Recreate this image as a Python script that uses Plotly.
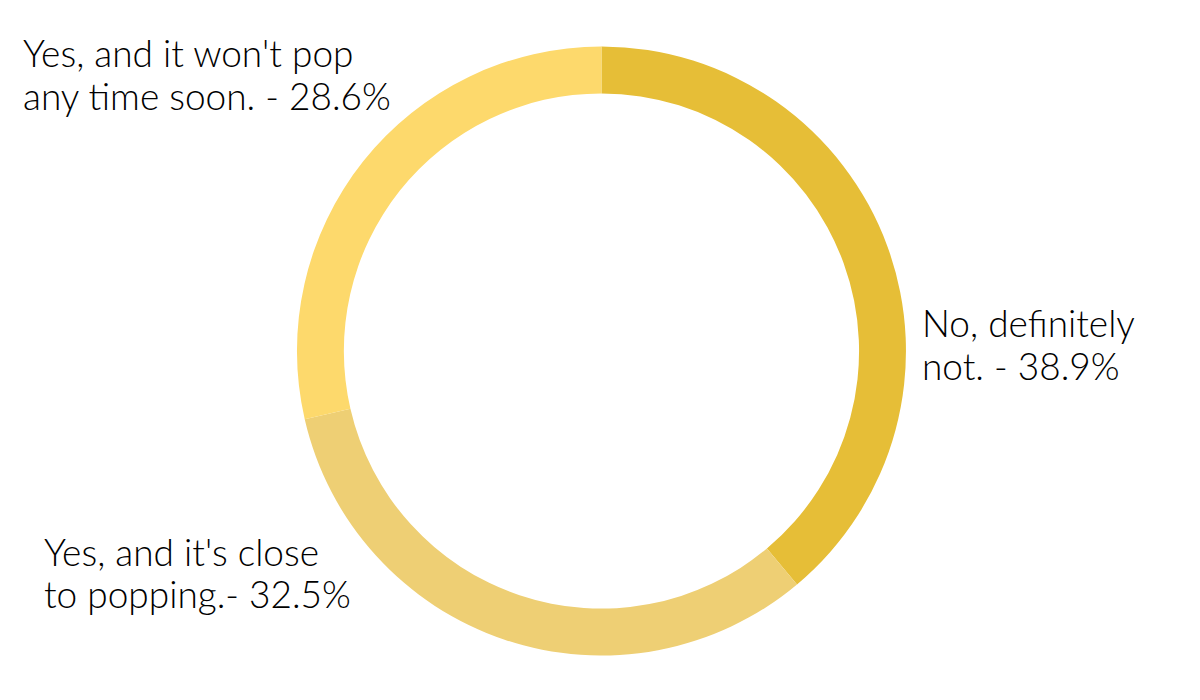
import plotly.graph_objects as go

labels = ["No, definitely not.", "Yes, and it's close to popping.", "Yes, and it won't pop any time soon."]
values = [38.9, 32.5, 28.6]
colors = ["#E6BE37", "#EECF74", "#FDD96C"]
label_lines = [
    ["No, definitely", "not. - 38.9%"],
    ["Yes, and it's close", "to popping.- 32.5%"],
    ["Yes, and it won't pop", "any time soon. - 28.6%"],
]

fig = go.Figure(go.Pie(
    labels=labels, values=values, sort=False, direction="clockwise", rotation=0,
    hole=0.846, marker=dict(colors=colors, line=dict(width=0)),
    textinfo="none", hoverinfo="label+percent", showlegend=False,
    domain=dict(x=[0.2408, 0.7483], y=[0.0743, 0.9457]),
))

font = dict(family="Lato", size=37, color="#000000", weight=300)
pos = [(912, 315), (34, 543), (13, 45)]
for (x, y), lines in zip(pos, label_lines):
    for i, t in enumerate(lines):
        fig.add_annotation(x=x / 1200, y=1 - (y + 42 * i) / 700, xref="paper", yref="paper",
                           text=t, showarrow=False, xanchor="left", yanchor="middle",
                           align="left", font=font)

fig.update_layout(width=1200, height=700, margin=dict(l=0, r=0, t=0, b=0),
                  paper_bgcolor="white", plot_bgcolor="white")
fig.write_html("out.html")
